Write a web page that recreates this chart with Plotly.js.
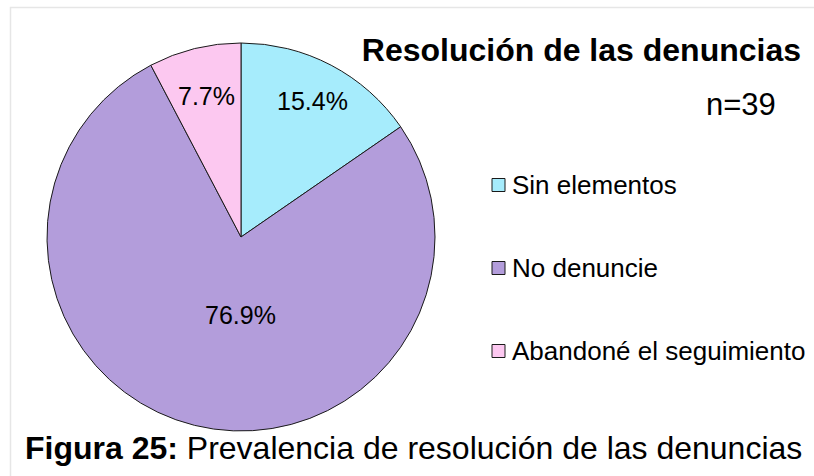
<!DOCTYPE html>
<html>
<head>
<meta charset="utf-8">
<script src="https://cdn.plot.ly/plotly-3.0.1.min.js"></script>
<style>html,body{margin:0;padding:0;background:#fff;}#chart{width:814px;height:476px;}</style>
</head>
<body>
<div id="chart"></div>
<script>
// ---- data ----
const categories = ["Sin elementos", "No denuncie", "Abandoné el seguimiento"];
const counts = [6, 30, 3];
const colors = ["#A6ECFC", "#B39DDB", "#FCC8F0"];
const chartTitle = "Resolución de las denuncias";
const sampleNote = "n=39";
const captionBold = "Figura 25:";
const captionText = "Prevalencia de resolución de las denuncias";

// ---- layout constants ----
const W = 814, H = 476;
const FONT = "Liberation Sans, Arial, sans-serif";
const cx = 241, cy = 237, R = 194;
const labelRadius = [0.79, 0.40, 0.75]; // fraction of radius for each percent label
const legendX = 492, legendYs = [185, 268, 351], sq = 13;

const total = counts.reduce((a, b) => a + b, 0);
const px = x => x / W, py = y => 1 - y / H;

const trace = {
  type: "pie",
  labels: categories,
  values: counts,
  sort: false,
  direction: "clockwise",
  rotation: 0,
  marker: { colors: colors, line: { color: "#1a1a1a", width: 1 } },
  textinfo: "none",
  hoverinfo: "label+percent",
  showlegend: false,
  domain: { x: [px(cx - R), px(cx + R)], y: [py(cy + R), py(cy - R)] }
};

// percent labels placed from slice geometry
const annotations = [];
let cum = 0;
counts.forEach((v, i) => {
  const frac = v / total;
  let mid = (cum + frac / 2) * 2 * Math.PI;
  cum += frac;
  let r = labelRadius[i] * R;
  let lx = cx + r * Math.sin(mid), ly = cy - r * Math.cos(mid);
  if (i === 1) { lx = cx; ly = cy + r; }
  annotations.push({
    text: (frac * 100).toFixed(1) + "%",
    x: px(lx), y: py(ly), xref: "paper", yref: "paper",
    xanchor: "center", yanchor: "middle", showarrow: false,
    font: { family: FONT, size: 25, color: "#000" }
  });
});

// manual legend
const shapes = [
  { type: "rect", xref: "paper", yref: "paper", x0: px(10.5), x1: px(830), y0: py(7.5), y1: py(490),
    line: { color: "#e6e6e6", width: 1.5 }, fillcolor: "rgba(0,0,0,0)", layer: "below" }
];
categories.forEach((c, i) => {
  const y = legendYs[i];
  shapes.push({ type: "rect", xref: "paper", yref: "paper",
    x0: px(legendX), x1: px(legendX + sq), y0: py(y + sq / 2), y1: py(y - sq / 2),
    fillcolor: colors[i], line: { color: "#1a1a1a", width: 1 } });
  annotations.push({ text: c, x: px(legendX + sq + 5), y: py(y), xref: "paper", yref: "paper",
    xanchor: "left", yanchor: "middle", showarrow: false,
    font: { family: FONT, size: 26, color: "#000" } });
});

annotations.push({ text: sampleNote, x: px(741), y: py(104), xref: "paper", yref: "paper",
  xanchor: "center", yanchor: "middle", showarrow: false,
  font: { family: FONT, size: 31, color: "#000" } });

annotations.push({ text: "<b>" + captionBold + "</b> " + captionText, x: px(413), y: py(448),
  xref: "paper", yref: "paper", xanchor: "center", yanchor: "middle", showarrow: false,
  font: { family: FONT, size: 32, color: "#000" } });

const layout = {
  width: W, height: H,
  margin: { l: 0, r: 0, t: 0, b: 0 },
  paper_bgcolor: "#ffffff",
  title: { text: "<b>" + chartTitle + "</b>", x: px(801), xanchor: "right", xref: "paper",
    y: py(50), yanchor: "middle", yref: "paper",
    font: { family: FONT, size: 32, color: "#000" } },
  shapes: shapes,
  annotations: annotations
};

Plotly.newPlot("chart", [trace], layout, { displayModeBar: false, staticPlot: true });
</script>
</body>
</html>
